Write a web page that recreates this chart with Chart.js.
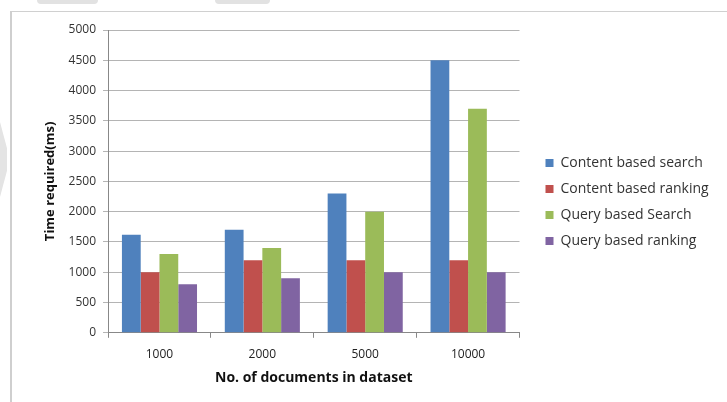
<!DOCTYPE html>
<html>
<head>
<meta charset="utf-8">
<script src="https://cdn.jsdelivr.net/npm/chart.js@4"></script>
<style>
  body { margin: 0; background: #fff; }
  #wrap { position: absolute; left: 10px; top: 11px; width: 720px; height: 395px; border: 1px solid #d0d0d0; border-left: 2px solid #cfcfcf; }
  .blob { position: absolute; background: #e2e2e2; border-radius: 0 0 6px 6px; top: 0; height: 4px; }
  #tri { position: absolute; left: 0; top: 122px; width: 7px; height: 75px; background: #e4e4e4; clip-path: polygon(0 0, 100% 35%, 100% 65%, 0 100%); }
</style>
</head>
<body>
<div class="blob" style="left:37px;width:61px"></div>
<div class="blob" style="left:215px;width:55px"></div>
<div id="tri"></div>
<div id="wrap"><canvas id="timeChart" width="716" height="390"></canvas></div>
<script>
// Data
const categories = ['1000', '2000', '5000', '10000'];
const contentSearch = [1620, 1700, 2300, 4500];
const contentRanking = [1000, 1200, 1200, 1200];
const querySearch = [1300, 1400, 2000, 3700];
const queryRanking = [800, 900, 1000, 1000];
const seriesNames = ['Content based search', 'Content based ranking', 'Query based Search', 'Query based ranking'];
const seriesColors = ['#4F81BD', '#C0504D', '#9BBB59', '#8064A2'];

const font = "'Open Sans', 'Liberation Sans', sans-serif";
const legendExtra = 36;   // extra width reserved for the legend
const legendOffset = 14;  // legend box starts this far right of the plot
const legendLift = 6;

// make room between plot and legend without clipping the legend text
const legendSpacer = {
    id: 'legendSpacer',
    beforeInit(chart) {
        const lg = chart.legend;
        const fit = lg.fit;
        lg.fit = function () { fit.call(this); this.width += legendExtra; };
    },
    afterLayout(chart) {
        const lg = chart.legend;
        lg.left = chart.chartArea.right + legendOffset;
        lg.top -= legendLift;
        lg.bottom -= legendLift;
    }
};

new Chart(document.getElementById('timeChart'), {
    type: 'bar',
    data: {
        labels: categories,
        datasets: [contentSearch, contentRanking, querySearch, queryRanking].map((d, i) => ({
            label: seriesNames[i],
            data: d,
            backgroundColor: seriesColors[i],
            barPercentage: 1.0,
            categoryPercentage: 0.73
        }))
    },
    options: {
        responsive: false,
        animation: false,
        layout: { padding: { top: 18, right: 0, bottom: 16, left: 26 } },
        plugins: {
            legend: {
                position: 'right',
                labels: {
                    boxWidth: 8, boxHeight: 8, padding: 12,
                    color: '#333', font: { family: font, size: 14 }
                }
            },
            tooltip: { enabled: false }
        },
        scales: {
            x: {
                grid: { display: true, drawOnChartArea: false, drawTicks: true, tickLength: 5, color: '#888', offset: true },
                border: { color: '#888' },
                ticks: { color: '#222', font: { family: font, size: 12 }, padding: 10 },
                title: { display: true, text: 'No. of documents in dataset', color: '#111', font: { family: font, size: 14, weight: 'bold' }, padding: { top: -3, bottom: 0 } }
            },
            y: {
                min: 0, max: 5000,
                ticks: { stepSize: 500, color: '#333', font: { family: font, size: 12 }, padding: 7, format: { useGrouping: false } },
                grid: { color: '#b4b4b4', tickLength: 5, lineWidth: 1 },
                border: { color: '#888' },
                title: { display: true, text: 'Time required(ms)', color: '#111', font: { family: font, size: 13, weight: 'bold' }, padding: { bottom: 4 } }
            }
        }
    },
    plugins: [legendSpacer]
});
</script>
</body>
</html>
